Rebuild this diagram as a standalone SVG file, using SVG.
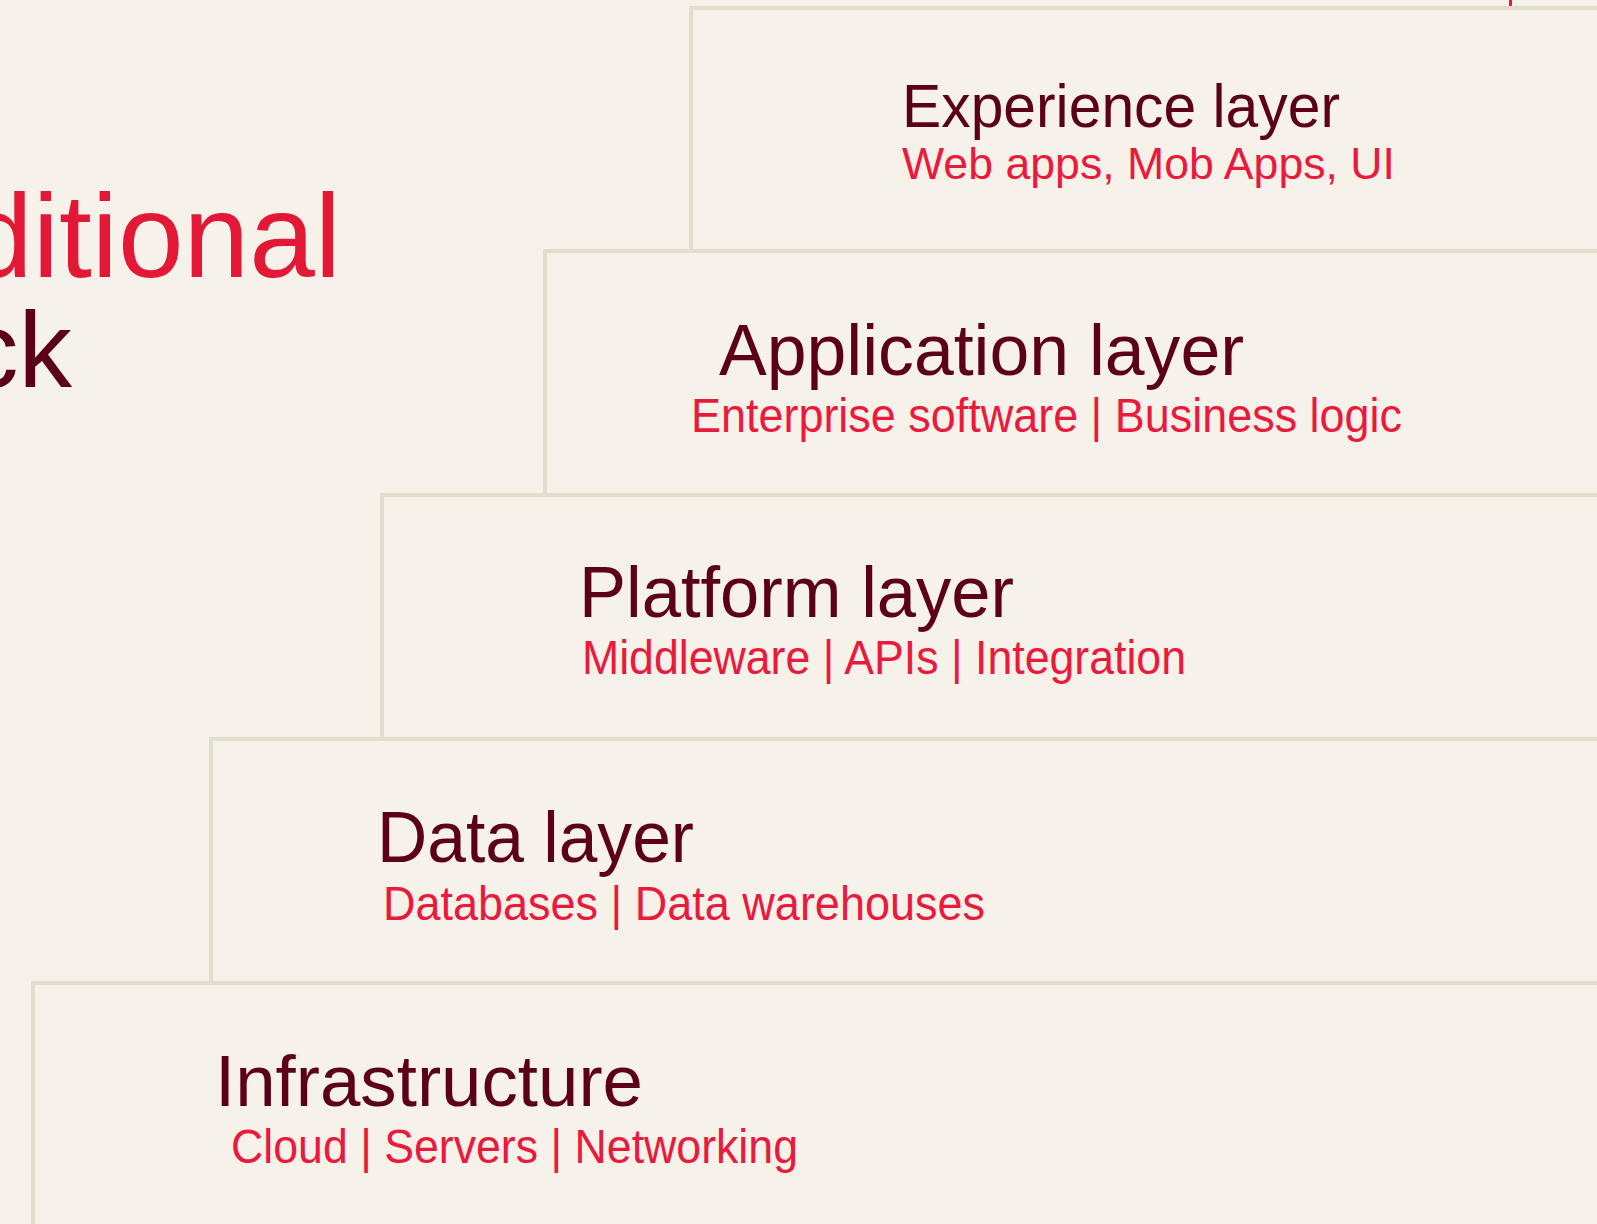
<svg xmlns="http://www.w3.org/2000/svg" width="1597" height="1224" viewBox="0 0 1597 1224">
<style>
.bg{fill:#f6f1e9}
.box{fill:#f6f1e9;stroke:#e3ddcf;stroke-width:4}
.t{font-family:"Liberation Sans",Arial,sans-serif;fill:#5c0016}
.s{font-family:"Liberation Sans",Arial,sans-serif;fill:#ea1a3d}
.big{font-family:"Liberation Sans",Arial,sans-serif}
</style>
<rect class="bg" x="0" y="0" width="1597" height="1224"/>
<rect x="1509" y="0" width="3" height="6" fill="#ea1a3d"/>
<g id="title">
<text class="big" x="341" y="277" font-size="118" text-anchor="end" fill="#e31837">ditional</text>
<text class="big" x="72" y="387" font-size="107" text-anchor="end" fill="#5c0016">ck</text>
</g>
<g id="experience">
<rect class="box" x="691" y="8" width="1200" height="400"/>
<text class="t" x="902" y="127" font-size="61" textLength="438" lengthAdjust="spacingAndGlyphs">Experience layer</text>
<text class="s" x="902" y="179" font-size="44" textLength="493" lengthAdjust="spacingAndGlyphs">Web apps, Mob Apps, UI</text>
</g>
<g id="application">
<rect class="box" x="545" y="251" width="1300" height="400"/>
<text class="t" x="719" y="375" font-size="72" textLength="525" lengthAdjust="spacingAndGlyphs">Application layer</text>
<text class="s" x="691" y="432" font-size="48" textLength="711" lengthAdjust="spacingAndGlyphs">Enterprise software | Business logic</text>
</g>
<g id="platform">
<rect class="box" x="382" y="495" width="1400" height="400"/>
<text class="t" x="579" y="617" font-size="72" textLength="435" lengthAdjust="spacingAndGlyphs">Platform layer</text>
<text class="s" x="582" y="674" font-size="48" textLength="604" lengthAdjust="spacingAndGlyphs">Middleware | APIs | Integration</text>
</g>
<g id="data">
<rect class="box" x="211" y="739" width="1500" height="400"/>
<text class="t" x="377" y="862" font-size="72" textLength="317" lengthAdjust="spacingAndGlyphs">Data layer</text>
<text class="s" x="383" y="920" font-size="48" textLength="602" lengthAdjust="spacingAndGlyphs">Databases | Data warehouses</text>
</g>
<g id="infrastructure">
<rect class="box" x="33" y="983" width="1700" height="400"/>
<text class="t" x="215" y="1106" font-size="72" textLength="428" lengthAdjust="spacingAndGlyphs">Infrastructure</text>
<text class="s" x="231" y="1163" font-size="48" textLength="567" lengthAdjust="spacingAndGlyphs">Cloud | Servers | Networking</text>
</g>
<g id="connectors"/>
</svg>
